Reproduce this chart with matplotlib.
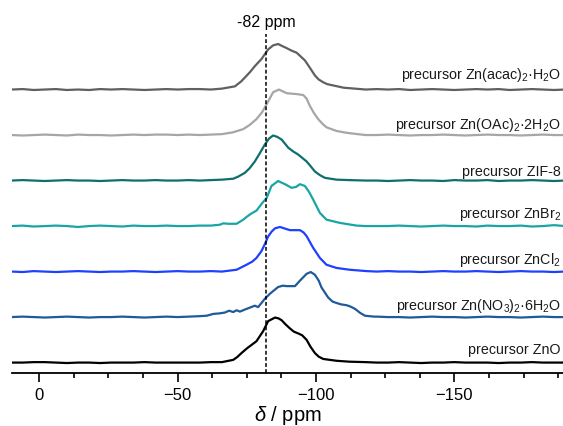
import numpy
import matplotlib
matplotlib.use("Agg")
import matplotlib.pyplot as plt
from matplotlib.ticker import MultipleLocator

# Desplazamientos quimicos de la linea base (comunes a todos los espectros)
ppmIzquierda = [10, 6, 2, -2, -6, -10, -14, -18, -22, -26, -30, -34, -38, -42, -46, -50, -54]
ppmDerecha = [-122, -126, -130, -134, -138, -142, -146, -150, -154, -158, -162, -166, -170,
              -174, -178, -182, -186, -190]

etiquetas = [
    "precursor Zn(acac)$_2$·H$_2$O",
    "precursor Zn(OAc)$_2$·2H$_2$O",
    "precursor ZIF-8",
    "precursor ZnBr$_2$",
    "precursor ZnCl$_2$",
    "precursor Zn(NO$_3$)$_2$·6H$_2$O",
    "precursor ZnO",
]

# --- Zn(acac)2.H2O ---
acacRuidoIzq = [0.00, 0.01, -0.01, 0.00, 0.01, -0.01, 0.00, -0.01, 0.01, 0.00, 0.01, 0.00, -0.01, 0.00, 0.01, 0.00, 0.01]
acacPpm = [-58, -62, -66, -70.7, -73, -76.1, -78, -80.3, -82.7, -84.5, -86.3, -88, -89.4, -91, -93,
           -96, -98, -99.6, -101, -102.6, -104, -106.2, -110, -114, -118]
acacInt = [0.01, 0.00, 0.02, 0.07, 0.18, 0.38, 0.52, 0.67, 0.88, 0.97, 1.00, 0.95, 0.91, 0.86, 0.81,
           0.64, 0.46, 0.31, 0.22, 0.16, 0.12, 0.09, 0.04, 0.02, 0.00]
acacRuidoDer = [0.01, 0.00, 0.01, -0.01, 0.00, 0.01, 0.00, -0.01, 0.00, 0.01, 0.00, 0.01, -0.01, 0.00, 0.01, 0.00, -0.01, 0.00]

# --- Zn(OAc)2.2H2O ---
oacRuidoIzq = [0.00, -0.01, 0.00, 0.01, 0.00, -0.01, 0.01, 0.00, 0.00, -0.01, 0.00, 0.01, 0.00, 0.01, 0.01, 0.00, 0.01]
oacPpm = [-58, -62, -66, -70, -73.7, -76, -78.5, -80.5, -82.2, -84.5, -86.6, -88, -89.4, -91, -93,
          -95.4, -96.6, -97.8, -99.3, -100.8, -102.3, -103.8, -107.4, -111, -115, -118]
oacInt = [0.00, 0.01, 0.02, 0.06, 0.13, 0.22, 0.35, 0.50, 0.68, 0.94, 1.00, 0.96, 0.92, 0.91, 0.90,
          0.88, 0.80, 0.64, 0.48, 0.35, 0.25, 0.17, 0.09, 0.05, 0.02, 0.00]
oacRuidoDer = [0.00, 0.01, 0.00, -0.01, 0.00, 0.00, 0.01, 0.00, -0.01, 0.00, 0.01, 0.00, 0.00, -0.01, 0.00, 0.01, 0.00, 0.00]

# --- ZIF-8 ---
zifRuidoIzq = [0.00, 0.01, 0.00, -0.01, 0.00, 0.01, 0.00, 0.00, -0.01, 0.00, 0.01, 0.00, 0.00, 0.01, 0.00, 0.00, 0.01]
zifPpm = [-58, -62, -66, -70.1, -72, -74.3, -76, -77.9, -79.7, -81.5, -83, -84.5, -86, -87.6, -90, -92,
          -93.6, -96.6, -98, -99.6, -101.4, -103.2, -107.4, -112, -118]
zifInt = [0.00, 0.01, 0.02, 0.04, 0.09, 0.17, 0.27, 0.42, 0.60, 0.79, 0.92, 0.99, 0.96, 0.90, 0.72, 0.63,
          0.57, 0.42, 0.32, 0.20, 0.12, 0.06, 0.02, 0.01, 0.00]
zifRuidoDer = [0.00, -0.01, 0.00, 0.01, 0.00, 0.00, -0.01, 0.01, 0.00, 0.00, 0.01, -0.01, 0.00, 0.00, 0.01, 0.00, -0.01, 0.00]

# --- ZnBr2 ---
brRuidoIzq = [0.00, 0.01, -0.01, 0.00, 0.01, 0.00, -0.02, 0.00, 0.01, 0.00, -0.01, 0.01, 0.00, 0.00, 0.01, 0.00, 0.00]
brPpm = [-58, -62, -65.3, -66.5, -68.3, -71.3, -73.7, -74.9, -76.5, -78.5, -80.5, -82.2, -83.9, -86.3,
         -88.8, -91.2, -92.8, -94.2, -96, -97.5, -99, -101.4, -103.8, -108.6, -114.7, -118]
brInt = [0.01, 0.01, 0.03, 0.06, 0.05, 0.05, 0.14, 0.20, 0.27, 0.34, 0.50, 0.62, 0.88, 0.99,
         0.92, 0.84, 0.86, 0.92, 0.88, 0.75, 0.58, 0.29, 0.14, 0.07, 0.01, 0.00]
brRuidoDer = [0.00, 0.00, 0.01, 0.00, -0.01, 0.00, 0.01, 0.00, 0.00, -0.01, 0.01, 0.00, 0.00, 0.01, -0.01, 0.00, 0.02, 0.00]

# --- ZnCl2 ---
clRuidoIzq = [0.00, -0.01, 0.01, 0.00, -0.01, 0.00, 0.01, 0.00, -0.01, 0.00, 0.00, 0.01, 0.00, -0.01, 0.00, 0.01, 0.00]
clPpm = [-58, -62, -66, -71.3, -74.9, -77, -78.5, -80.3, -81.5, -82.7, -84, -85.2, -87, -88.5, -90.6,
         -92.5, -94.2, -95.5, -96.6, -99, -101.4, -103.8, -107.4, -112.2, -118.3]
clInt = [0.00, 0.01, 0.00, 0.04, 0.15, 0.22, 0.30, 0.45, 0.60, 0.77, 0.88, 0.95, 0.98, 0.95, 0.91,
         0.91, 0.91, 0.86, 0.78, 0.52, 0.30, 0.15, 0.08, 0.04, 0.01]
clRuidoDer = [0.00, 0.01, 0.00, 0.00, -0.01, 0.00, 0.01, 0.00, 0.00, 0.01, 0.00, -0.01, 0.00, 0.01, 0.00, 0.00, -0.01, 0.00]

# --- Zn(NO3)2.6H2O ---
no3RuidoIzq = [0.00, 0.01, 0.00, -0.01, 0.00, 0.01, 0.00, -0.01, 0.00, 0.00, 0.01, 0.00, -0.01, 0.00, 0.01, 0.00, 0.01]
no3Ppm = [-58, -60.5, -62.9, -65, -67.1, -68.6, -70.1, -71.3, -72.5, -74.9, -77.9, -79.1, -81.5, -83.3,
          -86.3, -88, -89.4, -92.4, -94.2, -96.6, -98.1, -99.6, -101, -102, -104.4, -106, -107.4, -109,
          -111.1, -112.5, -114.1, -116, -117.7, -121]
no3Int = [0.02, 0.03, 0.07, 0.08, 0.10, 0.14, 0.11, 0.15, 0.12, 0.18, 0.25, 0.22, 0.40, 0.51,
          0.66, 0.69, 0.68, 0.68, 0.80, 0.95, 0.99, 0.93, 0.80, 0.65, 0.43, 0.34, 0.31, 0.28,
          0.26, 0.23, 0.18, 0.09, 0.03, 0.01]
no3RuidoDer = [0.01, 0.00, 0.00, -0.01, 0.00, 0.01, 0.00, 0.00, -0.01, 0.00, 0.01, 0.00, 0.00, -0.01, 0.00, 0.01, 0.00, 0.00]

# --- ZnO ---
znoRuidoIzq = [0.00, 0.00, 0.01, 0.01, 0.00, -0.01, 0.00, 0.00, -0.01, 0.00, 0.00, 0.00, 0.01, 0.00, 0.00, 0.00, 0.00]
znoPpm = [-58, -62, -66, -70.1, -71.5, -73.1, -75, -76.1, -78.5, -80.9, -82.7, -85.2, -86.5, -87.6, -89,
          -90.6, -92, -93.6, -95, -96.6, -98, -99.6, -101, -102.6, -107.4, -112, -118]
znoInt = [0.00, 0.01, 0.01, 0.06, 0.12, 0.21, 0.31, 0.36, 0.47, 0.69, 0.91, 0.99, 0.97, 0.93, 0.84,
          0.75, 0.68, 0.64, 0.60, 0.50, 0.35, 0.21, 0.13, 0.08, 0.04, 0.02, 0.01]
znoRuidoDer = [0.00, 0.00, 0.01, 0.00, -0.01, 0.00, 0.00, 0.01, 0.00, 0.00, 0.00, -0.01, 0.00, 0.00, 0.01, 0.00, 0.00, 0.00]

# orden de arriba hacia abajo
espectros = [
    (acacRuidoIzq, acacPpm, acacInt, acacRuidoDer),
    (oacRuidoIzq, oacPpm, oacInt, oacRuidoDer),
    (zifRuidoIzq, zifPpm, zifInt, zifRuidoDer),
    (brRuidoIzq, brPpm, brInt, brRuidoDer),
    (clRuidoIzq, clPpm, clInt, clRuidoDer),
    (no3RuidoIzq, no3Ppm, no3Int, no3RuidoDer),
    (znoRuidoIzq, znoPpm, znoInt, znoRuidoDer),
]
colores = ["#606060", "#a6a6a6", "#0f6e6e", "#1aa5a5", "#1e40ff", "#1f5a99", "#000000"]
separacionEtiqueta = [0.26, 0.15, 0.12, 0.21, 0.18, 0.18, 0.20]  # altura del texto sobre la linea base

plt.rcParams['font.family'] = ['Liberation Sans', 'DejaVu Sans']
plt.rcParams['mathtext.fontset'] = 'custom'
plt.rcParams['mathtext.rm'] = 'Liberation Sans'
plt.rcParams['mathtext.it'] = 'Liberation Sans:italic'

fig = plt.figure(figsize=(5.63, 4.27), dpi=100)
ax = fig.add_axes([0.0206, 0.124, 0.983, 0.794])

nEspectros = len(espectros)
for i, (ruidoIzq, ppmPico, intPico, ruidoDer) in enumerate(espectros):
    desplazamiento = nEspectros - 1 - i
    x = numpy.array(ppmIzquierda + ppmPico + ppmDerecha)
    y = numpy.array(ruidoIzq + intPico + ruidoDer) + desplazamiento
    ax.plot(x, y, color=colores[i], lw=1.6, solid_joinstyle='round')
    ax.text(-188.5, desplazamiento + separacionEtiqueta[i], etiquetas[i], ha='right', va='baseline',
            fontsize=10.3, color='#1a1a1a', clip_on=False)

ax.axvline(-82, color='black', lw=1.1, ls=(0, (2.5, 1.5)))
ax.annotate("-82 ppm", xy=(-82, 1.0), xycoords=('data', 'axes fraction'), xytext=(0, 9),
            textcoords='offset points', ha='center', va='center', fontsize=11.5)

ax.set_xlim(10, -190)
ax.set_ylim(-0.23, 7.22)
for lado in ['left', 'right', 'top']:
    ax.spines[lado].set_visible(False)
ax.spines['bottom'].set_linewidth(1.3)
ax.set_yticks([])
ax.xaxis.set_major_locator(MultipleLocator(50))
ax.xaxis.set_minor_locator(MultipleLocator(12.5))
ax.tick_params(axis='x', which='major', length=6.3, width=1.2, labelsize=12, pad=4)
ax.tick_params(axis='x', which='minor', length=3.4, width=1.2)
ax.set_xlabel(r"$\mathit{\delta}$ / ppm", fontsize=14.5, labelpad=0.5)

fig.savefig("out.png", dpi=100)
